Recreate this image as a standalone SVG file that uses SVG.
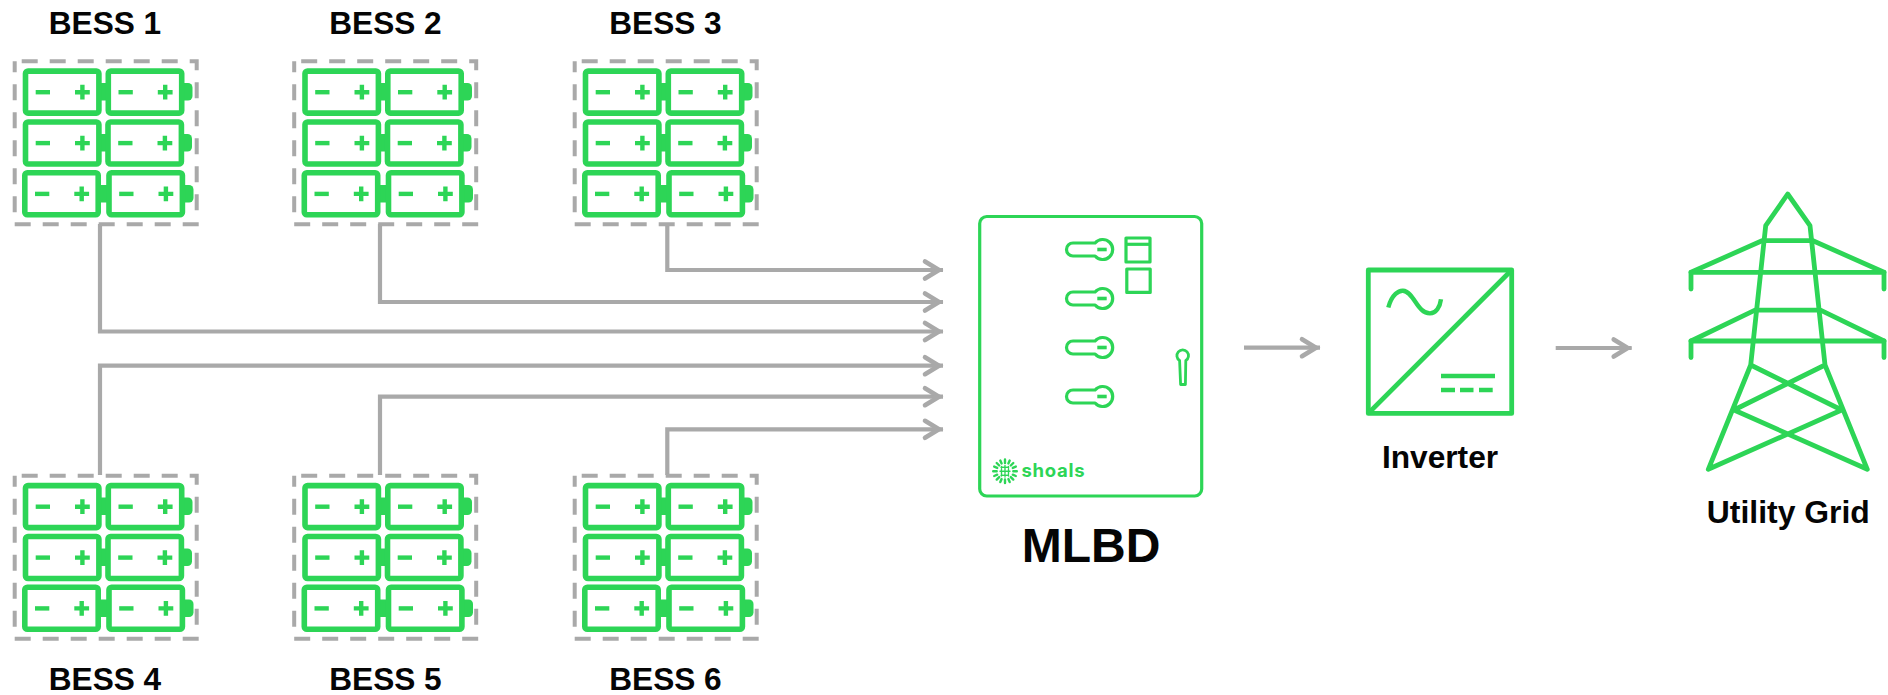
<svg xmlns="http://www.w3.org/2000/svg" width="1888" height="695" viewBox="0 0 1888 695">
<style>
text{font-family:"Liberation Sans",Arial,sans-serif;font-weight:700;fill:#050505;text-anchor:middle}
.t{font-size:31.6px}
.frame{fill:none;stroke:#a9a9a9;stroke-width:4;stroke-dasharray:16 12;stroke-dashoffset:21}
.conn{fill:none;stroke:#a9a9a9;stroke-width:4.200;marker-end:url(#arr)}
.g{fill:none;stroke:#2dd556;stroke-linejoin:round}
.bat{fill:#fff;stroke:#2dd556;stroke-width:5.6;stroke-linejoin:round}
.f{fill:#2dd556}
.s3{stroke-width:3.200}
.s5{stroke-width:4.800;stroke-linecap:round}
</style>
<defs>
<marker id="arr" markerUnits="userSpaceOnUse" markerWidth="30" markerHeight="28" refX="25" refY="14" orient="auto">
<path d="M7 5.500 L21 14 L7 22.500" fill="none" stroke="#a9a9a9" stroke-width="4.600" stroke-linecap="round" stroke-linejoin="miter"/>
</marker>
<g id="cell">
<rect class="bat" x="2.800" y="2.800" width="73.400" height="42" rx="2.500"/>
<rect class="f" x="13" y="21.700" width="14.300" height="4.400"/>
<path class="f" d="M52.300 21.700h5.200v-5.200h4.400v5.200h5.200v4.400h-5.200v5.200h-4.400v-5.200h-5.200z"/>
</g>
<g id="pack">
<rect class="frame" x="14.700" y="61.300" width="182" height="163"/>
<rect class="f" x="101" y="83" width="6" height="17.500"/>
<path class="f" d="M183 83h5a4.500 4.500 0 0 1 4.500 4.500v8.500a4.500 4.500 0 0 1-4.500 4.500h-5z"/>
<use href="#cell" x="22.700" y="68.300"/>
<use href="#cell" x="105.500" y="68.300"/>
<rect class="f" x="101" y="134" width="5.500" height="17.500"/>
<path class="f" d="M183 134h4.500a4.500 4.500 0 0 1 4.500 4.500v8.500a4.500 4.500 0 0 1-4.500 4.500H183z"/>
<use href="#cell" x="22.700" y="119.200"/>
<use href="#cell" x="105.200" y="119.200"/>
<rect class="f" x="100" y="185" width="7" height="17.500"/>
<path class="f" d="M184 185h5a4.500 4.500 0 0 1 4.500 4.500v8.500a4.500 4.500 0 0 1-4.500 4.500h-5z"/>
<use href="#cell" x="22" y="170"/>
<use href="#cell" x="106.200" y="170"/>
</g>
<path id="keyshape" class="g s3" d="M1095.100 0H1073a6.500 6.500 0 0 0 0 13H1095.100A10 10 0 1 0 1095.100 0Z"/>
</defs>

<g id="connectors">
<path class="conn" d="M667.300 224V270H943"/>
<path class="conn" d="M380 224V302H943"/>
<path class="conn" d="M100 224V331.500H943"/>
<path class="conn" d="M100 475V365.700H943"/>
<path class="conn" d="M380 475V396.700H943"/>
<path class="conn" d="M667.300 475V429.300H943"/>
<path class="conn" d="M1244 347.700H1320"/>
<path class="conn" d="M1555.700 348H1631.700"/>
</g>

<g id="bess-1"><use href="#pack"/><text class="t" x="105" y="34">BESS 1</text></g>
<g id="bess-2"><use href="#pack" x="279.500"/><text class="t" x="385.500" y="34">BESS 2</text></g>
<g id="bess-3"><use href="#pack" x="560"/><text class="t" x="665.500" y="34">BESS 3</text></g>
<g id="bess-4"><use href="#pack" y="414.500"/><text class="t" x="105" y="689.500">BESS 4</text></g>
<g id="bess-5"><use href="#pack" x="279.500" y="414.500"/><text class="t" x="385.500" y="689.500">BESS 5</text></g>
<g id="bess-6"><use href="#pack" x="560" y="414.500"/><text class="t" x="665.500" y="689.500">BESS 6</text></g>

<g id="mlbd">
<rect class="g s3" x="979.700" y="216.500" width="222" height="279.500" rx="7"/>
<g transform="translate(0 243)"><use href="#keyshape"/><rect class="f" x="1097.300" y="4.700" width="9.400" height="3.600"/></g>
<g transform="translate(0 292)"><use href="#keyshape"/><rect class="f" x="1097.300" y="4.700" width="9.400" height="3.600"/></g>
<g transform="translate(0 341)"><use href="#keyshape"/><rect class="f" x="1097.300" y="4.700" width="9.400" height="3.600"/></g>
<g transform="translate(0 390)"><use href="#keyshape"/><rect class="f" x="1097.300" y="4.700" width="9.400" height="3.600"/></g>
<rect class="g s3" x="1126" y="238" width="24" height="24"/>
<path class="g s3" d="M1126 244.300H1150"/>
<rect class="g s3" x="1126.800" y="269" width="23.400" height="23.400"/>
<path class="g" stroke-width="2.800" d="M1179.600 360.500A5.800 5.800 0 1 1 1185.800 360.500L1185.400 384.500H1180.600Z"/>
<g id="shoals-logo" stroke="#2dd556" stroke-width="2.400" stroke-linecap="round" fill="none">
<path d="M1005 459.500v3.500M1005 479.500v3.500M993.200 471.300h3.500M1013.300 471.300h3.500M996.700 463l2.500 2.500M1010.800 477.100l2.500 2.500M996.700 479.600l2.500-2.500M1010.800 465.500l2.500-2.500M1000.300 460.500l1.300 3M1008.400 479.100l1.300 3M1000.300 482.100l1.300-3M1008.400 463.500l1.300-3M994.200 466.600l3 1.300M1012.800 474.700l3 1.300M994.200 476l3-1.300M1012.800 467.900l3-1.300"/>
<path d="M1001 467.300h8M1000 471.300h10M1001 475.300h8M1001.500 466.500v9.500M1005 465.500v11.500M1008.500 466.500v9.500" stroke-width="1.400" stroke-dasharray="1.800 1"/>
</g>
<text x="1021.500" y="476.800" style="font-family:Inter,'Liberation Sans',sans-serif;font-weight:700;font-size:18.500px;fill:#2dd556;text-anchor:start" textLength="63" lengthAdjust="spacing">shoals</text>
<text x="1091" y="561.800" style="font-size:48px">MLBD</text>
</g>

<g id="inverter">
<rect class="g" stroke-width="4.800" x="1368.300" y="270" width="143.400" height="143.400" stroke-linejoin="miter"/>
<path class="g" stroke-width="4.800" d="M1368.300 413.400L1511.700 270"/>
<path class="g" stroke-width="4.400" d="M1388.300 307.500C1392 294 1399 290.500 1403 290.800C1414 291.500 1417 313.500 1430 313.400C1436 313.300 1440 307 1441 299.300"/>
<path class="g" stroke-width="4.600" d="M1441 376H1495"/>
<path class="g" stroke-width="4.600" d="M1441 390H1455M1460 390H1473.500M1479 390H1492.700"/>
<text class="t" x="1440" y="467.700" style="font-size:31.700px">Inverter</text>
</g>

<g id="utility-grid">
<path class="g s5" d="M1691 289V272.300H1884V289M1691 357.500V341H1884V357.500"/>
<path class="g s5" d="M1691 272.300L1762 240.700H1813L1884 272.300M1691 341L1755 310.200H1820.500L1884 341"/>
<path class="g s5" d="M1750.700 365L1765.700 225.700L1787.700 194L1810 225.700L1825 365L1867.300 469.300L1734 410M1750.700 365L1708.300 469.300L1841.700 410L1750.700 365M1825 365L1734 410"/>
<text class="t" x="1788.300" y="523.300" style="font-size:31.900px">Utility Grid</text>
</g>
</svg>
